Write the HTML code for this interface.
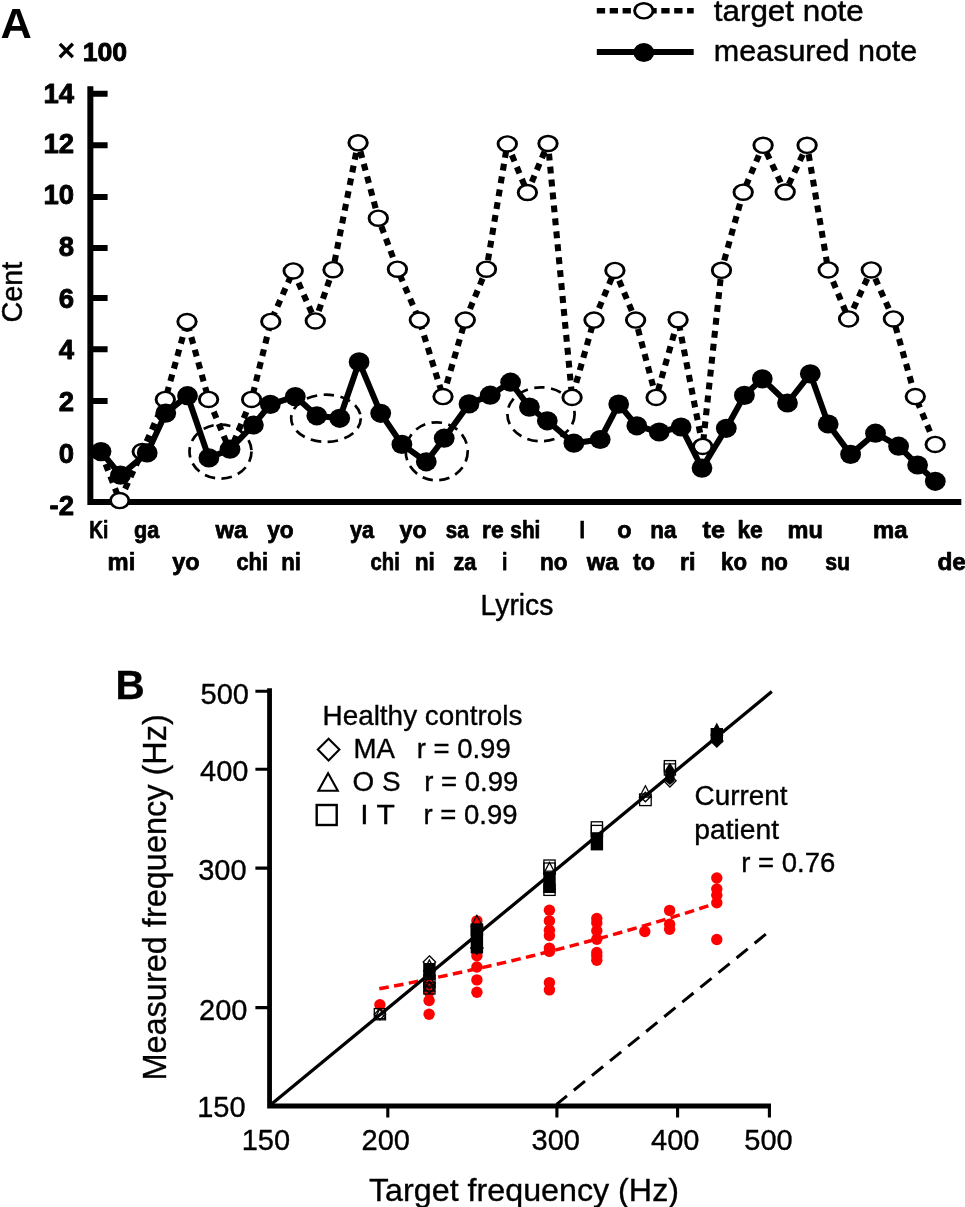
<!DOCTYPE html>
<html lang="en"><head><meta charset="utf-8"><title>Figure</title>
<style>
html,body{margin:0;padding:0;background:#fff;}
body{width:965px;height:1207px;overflow:hidden;}
svg{display:block;font-family:"Liberation Sans", Arial, Helvetica, sans-serif;filter:blur(0.45px);}
#panelB text{stroke:#000;stroke-width:0.35px;}
</style></head><body>
<svg width="965" height="1207" viewBox="0 0 965 1207">
<rect width="965" height="1207" fill="#fff"/>
<g id="panelA" fill="#000" stroke="none">
<path d="M90.35 86.2 V505 M87.4 502 H961.3" stroke="#000" stroke-width="6" fill="none"/>
<path d="M90 93.65 H107.6 M90 145.3 H107.6 M90 197.1 H107.6 M90 248 H107.6 M90 298 H107.6 M90 349.2 H107.6 M90 401 H107.6 " stroke="#000" stroke-width="6" fill="none"/>
<text x="74.0" y="103.2" font-size="27.5" font-weight="bold" text-anchor="end" stroke="#000" stroke-width="0.9" stroke-linejoin="round">14</text>
<text x="74.0" y="153.2" font-size="27.5" font-weight="bold" text-anchor="end" stroke="#000" stroke-width="0.9" stroke-linejoin="round">12</text>
<text x="74.0" y="204.2" font-size="27.5" font-weight="bold" text-anchor="end" stroke="#000" stroke-width="0.9" stroke-linejoin="round">10</text>
<text x="74.0" y="255.9" font-size="27.5" font-weight="bold" text-anchor="end" stroke="#000" stroke-width="0.9" stroke-linejoin="round">8</text>
<text x="74.0" y="308.0" font-size="27.5" font-weight="bold" text-anchor="end" stroke="#000" stroke-width="0.9" stroke-linejoin="round">6</text>
<text x="74.0" y="359.2" font-size="27.5" font-weight="bold" text-anchor="end" stroke="#000" stroke-width="0.9" stroke-linejoin="round">4</text>
<text x="74.0" y="410.8" font-size="27.5" font-weight="bold" text-anchor="end" stroke="#000" stroke-width="0.9" stroke-linejoin="round">2</text>
<text x="74.0" y="463.4" font-size="27.5" font-weight="bold" text-anchor="end" stroke="#000" stroke-width="0.9" stroke-linejoin="round">0</text>
<text x="74.0" y="514.5" font-size="27.5" font-weight="bold" text-anchor="end" stroke="#000" stroke-width="0.9" stroke-linejoin="round">-2</text>
<text x="57.2" y="61.2" font-size="31" font-weight="bold" text-anchor="start" >×</text>
<text x="82.7" y="61.2" font-size="26.5" font-weight="bold" text-anchor="start" textLength="44.5" lengthAdjust="spacingAndGlyphs" stroke="#000" stroke-width="0.9" stroke-linejoin="round">100</text>
<text x="0.4" y="37.5" font-size="43.4" font-weight="bold" text-anchor="start" >A</text>
<text transform="translate(22.0,322.6) rotate(-90)" font-size="30" textLength="60.8" lengthAdjust="spacingAndGlyphs" stroke="#000" stroke-width="0.45" stroke-linejoin="round">Cent</text>
<text x="480.6" y="614.8" font-size="29.2" font-weight="normal" text-anchor="start" textLength="72.8" lengthAdjust="spacingAndGlyphs" stroke="#000" stroke-width="0.45" stroke-linejoin="round">Lyrics</text>
<path d="M596.8 10.8 H693.7" stroke="#000" stroke-width="5.6" stroke-dasharray="8.3 4.6" fill="none"/>
<circle r="7.55" transform="translate(643.8 10.8) scale(1.22 1)" fill="#fff" stroke="#000" stroke-width="2.4"/>
<path d="M596.8 52 H693.7" stroke="#000" stroke-width="5.8" fill="none"/>
<ellipse cx="643.8" cy="52.5" rx="10.4" ry="9.6"/>
<text x="713.8" y="20.5" font-size="29.2" font-weight="normal" text-anchor="start" textLength="150.0" lengthAdjust="spacingAndGlyphs" stroke="#000" stroke-width="0.45" stroke-linejoin="round">target note</text>
<text x="713.8" y="61.3" font-size="29.2" font-weight="normal" text-anchor="start" textLength="203.5" lengthAdjust="spacingAndGlyphs" stroke="#000" stroke-width="0.45" stroke-linejoin="round">measured note</text>
<ellipse cx="220.5" cy="451.6" rx="31" ry="27" transform="rotate(0 220.5 451.6)" fill="none" stroke="#000" stroke-width="2.7" stroke-dasharray="10.5 6.5"/>
<ellipse cx="326" cy="418.3" rx="34.8" ry="23.6" transform="rotate(0 326 418.3)" fill="none" stroke="#000" stroke-width="2.7" stroke-dasharray="10.5 6.5"/>
<ellipse cx="436.7" cy="451.3" rx="31" ry="29" transform="rotate(0 436.7 451.3)" fill="none" stroke="#000" stroke-width="2.7" stroke-dasharray="10.5 6.5"/>
<ellipse cx="541" cy="414.3" rx="33.6" ry="27" transform="rotate(0 541 414.3)" fill="none" stroke="#000" stroke-width="2.7" stroke-dasharray="10.5 6.5"/>
<polyline points="101.0,452.0 119.7,500.6 142.2,451.6 165.3,399.4 187.0,321.6 208.6,399.4 230.0,451.0 251.6,399.4 270.8,321.4 293.2,270.9 315.3,320.9 333.0,269.7 358.1,142.8 378.3,218.2 397.4,269.2 419.3,320.1 443.0,396.6 465.3,320.1 486.5,269.2 507.3,143.9 527.4,192.5 548.0,143.5 572.1,397.4 594.0,320.1 614.9,270.4 635.6,320.1 656.1,397.4 678.1,319.7 702.7,446.4 721.5,270.3 743.2,192.2 763.1,145.3 785.2,192.0 807.1,145.3 828.2,269.9 848.6,318.9 871.3,269.9 893.4,318.9 915.3,396.6 935.2,444.4" fill="none" stroke="#000" stroke-width="6.1" stroke-dasharray="6.9 6.1" stroke-linejoin="round"/>
<circle r="7.55" transform="translate(119.7 500.6) scale(1.22 1)" fill="#fff" stroke="#000" stroke-width="2.4"/>
<circle r="7.55" transform="translate(142.2 451.6) scale(1.22 1)" fill="#fff" stroke="#000" stroke-width="2.4"/>
<circle r="7.55" transform="translate(165.3 399.4) scale(1.22 1)" fill="#fff" stroke="#000" stroke-width="2.4"/>
<circle r="7.55" transform="translate(187.0 321.6) scale(1.22 1)" fill="#fff" stroke="#000" stroke-width="2.4"/>
<circle r="7.55" transform="translate(208.6 399.4) scale(1.22 1)" fill="#fff" stroke="#000" stroke-width="2.4"/>
<circle r="7.55" transform="translate(251.6 399.4) scale(1.22 1)" fill="#fff" stroke="#000" stroke-width="2.4"/>
<circle r="7.55" transform="translate(270.8 321.4) scale(1.22 1)" fill="#fff" stroke="#000" stroke-width="2.4"/>
<circle r="7.55" transform="translate(293.2 270.9) scale(1.22 1)" fill="#fff" stroke="#000" stroke-width="2.4"/>
<circle r="7.55" transform="translate(315.3 320.9) scale(1.22 1)" fill="#fff" stroke="#000" stroke-width="2.4"/>
<circle r="7.55" transform="translate(333.0 269.7) scale(1.22 1)" fill="#fff" stroke="#000" stroke-width="2.4"/>
<circle r="7.55" transform="translate(358.1 142.8) scale(1.22 1)" fill="#fff" stroke="#000" stroke-width="2.4"/>
<circle r="7.55" transform="translate(378.3 218.2) scale(1.22 1)" fill="#fff" stroke="#000" stroke-width="2.4"/>
<circle r="7.55" transform="translate(397.4 269.2) scale(1.22 1)" fill="#fff" stroke="#000" stroke-width="2.4"/>
<circle r="7.55" transform="translate(419.3 320.1) scale(1.22 1)" fill="#fff" stroke="#000" stroke-width="2.4"/>
<circle r="7.55" transform="translate(443.0 396.6) scale(1.22 1)" fill="#fff" stroke="#000" stroke-width="2.4"/>
<circle r="7.55" transform="translate(465.3 320.1) scale(1.22 1)" fill="#fff" stroke="#000" stroke-width="2.4"/>
<circle r="7.55" transform="translate(486.5 269.2) scale(1.22 1)" fill="#fff" stroke="#000" stroke-width="2.4"/>
<circle r="7.55" transform="translate(507.3 143.9) scale(1.22 1)" fill="#fff" stroke="#000" stroke-width="2.4"/>
<circle r="7.55" transform="translate(527.4 192.5) scale(1.22 1)" fill="#fff" stroke="#000" stroke-width="2.4"/>
<circle r="7.55" transform="translate(548.0 143.5) scale(1.22 1)" fill="#fff" stroke="#000" stroke-width="2.4"/>
<circle r="7.55" transform="translate(572.1 397.4) scale(1.22 1)" fill="#fff" stroke="#000" stroke-width="2.4"/>
<circle r="7.55" transform="translate(594.0 320.1) scale(1.22 1)" fill="#fff" stroke="#000" stroke-width="2.4"/>
<circle r="7.55" transform="translate(614.9 270.4) scale(1.22 1)" fill="#fff" stroke="#000" stroke-width="2.4"/>
<circle r="7.55" transform="translate(635.6 320.1) scale(1.22 1)" fill="#fff" stroke="#000" stroke-width="2.4"/>
<circle r="7.55" transform="translate(656.1 397.4) scale(1.22 1)" fill="#fff" stroke="#000" stroke-width="2.4"/>
<circle r="7.55" transform="translate(678.1 319.7) scale(1.22 1)" fill="#fff" stroke="#000" stroke-width="2.4"/>
<circle r="7.55" transform="translate(702.7 446.4) scale(1.22 1)" fill="#fff" stroke="#000" stroke-width="2.4"/>
<circle r="7.55" transform="translate(721.5 270.3) scale(1.22 1)" fill="#fff" stroke="#000" stroke-width="2.4"/>
<circle r="7.55" transform="translate(743.2 192.2) scale(1.22 1)" fill="#fff" stroke="#000" stroke-width="2.4"/>
<circle r="7.55" transform="translate(763.1 145.3) scale(1.22 1)" fill="#fff" stroke="#000" stroke-width="2.4"/>
<circle r="7.55" transform="translate(785.2 192.0) scale(1.22 1)" fill="#fff" stroke="#000" stroke-width="2.4"/>
<circle r="7.55" transform="translate(807.1 145.3) scale(1.22 1)" fill="#fff" stroke="#000" stroke-width="2.4"/>
<circle r="7.55" transform="translate(828.2 269.9) scale(1.22 1)" fill="#fff" stroke="#000" stroke-width="2.4"/>
<circle r="7.55" transform="translate(848.6 318.9) scale(1.22 1)" fill="#fff" stroke="#000" stroke-width="2.4"/>
<circle r="7.55" transform="translate(871.3 269.9) scale(1.22 1)" fill="#fff" stroke="#000" stroke-width="2.4"/>
<circle r="7.55" transform="translate(893.4 318.9) scale(1.22 1)" fill="#fff" stroke="#000" stroke-width="2.4"/>
<circle r="7.55" transform="translate(915.3 396.6) scale(1.22 1)" fill="#fff" stroke="#000" stroke-width="2.4"/>
<circle r="7.55" transform="translate(935.2 444.4) scale(1.22 1)" fill="#fff" stroke="#000" stroke-width="2.4"/>
<polyline points="101.0,451.6 120.5,475.2 147.2,452.9 165.8,413.1 187.5,395.7 208.9,457.9 230.0,449.2 253.4,425.0 270.3,404.4 295.3,396.6 316.8,415.8 339.7,418.3 359.1,361.9 380.7,413.3 401.9,444.4 426.3,461.8 444.2,438.2 469.0,403.9 490.2,395.2 510.6,382.2 529.4,407.1 547.3,420.8 573.9,443.2 600.2,439.5 618.7,404.1 636.8,425.8 659.2,432.0 681.1,427.0 702.0,468.1 726.3,428.3 744.4,395.4 762.3,378.8 787.5,403.0 810.3,373.8 828.2,424.0 850.6,454.4 875.5,433.2 898.6,446.2 917.6,465.0 935.3,481.3" fill="none" stroke="#000" stroke-width="6" stroke-linejoin="round"/>
<ellipse cx="101.0" cy="451.6" rx="10.4" ry="9.6"/>
<ellipse cx="120.5" cy="475.2" rx="10.4" ry="9.6"/>
<ellipse cx="147.2" cy="452.9" rx="10.4" ry="9.6"/>
<ellipse cx="165.8" cy="413.1" rx="10.4" ry="9.6"/>
<ellipse cx="187.5" cy="395.7" rx="10.4" ry="9.6"/>
<ellipse cx="208.9" cy="457.9" rx="10.4" ry="9.6"/>
<ellipse cx="230.0" cy="449.2" rx="10.4" ry="9.6"/>
<ellipse cx="253.4" cy="425.0" rx="10.4" ry="9.6"/>
<ellipse cx="270.3" cy="404.4" rx="10.4" ry="9.6"/>
<ellipse cx="295.3" cy="396.6" rx="10.4" ry="9.6"/>
<ellipse cx="316.8" cy="415.8" rx="10.4" ry="9.6"/>
<ellipse cx="339.7" cy="418.3" rx="10.4" ry="9.6"/>
<ellipse cx="359.1" cy="361.9" rx="10.4" ry="9.6"/>
<ellipse cx="380.7" cy="413.3" rx="10.4" ry="9.6"/>
<ellipse cx="401.9" cy="444.4" rx="10.4" ry="9.6"/>
<ellipse cx="426.3" cy="461.8" rx="10.4" ry="9.6"/>
<ellipse cx="444.2" cy="438.2" rx="10.4" ry="9.6"/>
<ellipse cx="469.0" cy="403.9" rx="10.4" ry="9.6"/>
<ellipse cx="490.2" cy="395.2" rx="10.4" ry="9.6"/>
<ellipse cx="510.6" cy="382.2" rx="10.4" ry="9.6"/>
<ellipse cx="529.4" cy="407.1" rx="10.4" ry="9.6"/>
<ellipse cx="547.3" cy="420.8" rx="10.4" ry="9.6"/>
<ellipse cx="573.9" cy="443.2" rx="10.4" ry="9.6"/>
<ellipse cx="600.2" cy="439.5" rx="10.4" ry="9.6"/>
<ellipse cx="618.7" cy="404.1" rx="10.4" ry="9.6"/>
<ellipse cx="636.8" cy="425.8" rx="10.4" ry="9.6"/>
<ellipse cx="659.2" cy="432.0" rx="10.4" ry="9.6"/>
<ellipse cx="681.1" cy="427.0" rx="10.4" ry="9.6"/>
<ellipse cx="702.0" cy="468.1" rx="10.4" ry="9.6"/>
<ellipse cx="726.3" cy="428.3" rx="10.4" ry="9.6"/>
<ellipse cx="744.4" cy="395.4" rx="10.4" ry="9.6"/>
<ellipse cx="762.3" cy="378.8" rx="10.4" ry="9.6"/>
<ellipse cx="787.5" cy="403.0" rx="10.4" ry="9.6"/>
<ellipse cx="810.3" cy="373.8" rx="10.4" ry="9.6"/>
<ellipse cx="828.2" cy="424.0" rx="10.4" ry="9.6"/>
<ellipse cx="850.6" cy="454.4" rx="10.4" ry="9.6"/>
<ellipse cx="875.5" cy="433.2" rx="10.4" ry="9.6"/>
<ellipse cx="898.6" cy="446.2" rx="10.4" ry="9.6"/>
<ellipse cx="917.6" cy="465.0" rx="10.4" ry="9.6"/>
<ellipse cx="935.3" cy="481.3" rx="10.4" ry="9.6"/>
<text x="89.3" y="538.1" font-size="23.5" font-weight="bold" text-anchor="start" textLength="19.1" lengthAdjust="spacingAndGlyphs" stroke="#000" stroke-width="0.75" stroke-linejoin="round">Ki</text>
<text x="133.9" y="538.1" font-size="23.5" font-weight="bold" text-anchor="start" textLength="25.3" lengthAdjust="spacingAndGlyphs" stroke="#000" stroke-width="0.75" stroke-linejoin="round">ga</text>
<text x="215.4" y="538.1" font-size="23.5" font-weight="bold" text-anchor="start" textLength="31.8" lengthAdjust="spacingAndGlyphs" stroke="#000" stroke-width="0.75" stroke-linejoin="round">wa</text>
<text x="267.2" y="538.1" font-size="23.5" font-weight="bold" text-anchor="start" textLength="26.5" lengthAdjust="spacingAndGlyphs" stroke="#000" stroke-width="0.75" stroke-linejoin="round">yo</text>
<text x="349.9" y="538.1" font-size="23.5" font-weight="bold" text-anchor="start" textLength="24.1" lengthAdjust="spacingAndGlyphs" stroke="#000" stroke-width="0.75" stroke-linejoin="round">ya</text>
<text x="399.6" y="538.1" font-size="23.5" font-weight="bold" text-anchor="start" textLength="27.0" lengthAdjust="spacingAndGlyphs" stroke="#000" stroke-width="0.75" stroke-linejoin="round">yo</text>
<text x="445.8" y="538.1" font-size="23.5" font-weight="bold" text-anchor="start" textLength="22.8" lengthAdjust="spacingAndGlyphs" stroke="#000" stroke-width="0.75" stroke-linejoin="round">sa</text>
<text x="482.0" y="538.1" font-size="23.5" font-weight="bold" text-anchor="start" textLength="21.6" lengthAdjust="spacingAndGlyphs" stroke="#000" stroke-width="0.75" stroke-linejoin="round">re</text>
<text x="510.3" y="538.1" font-size="23.5" font-weight="bold" text-anchor="start" textLength="30.1" lengthAdjust="spacingAndGlyphs" stroke="#000" stroke-width="0.75" stroke-linejoin="round">shi</text>
<text x="579.5" y="538.1" font-size="23.5" font-weight="bold" text-anchor="start" textLength="5.5" lengthAdjust="spacingAndGlyphs" stroke="#000" stroke-width="0.75" stroke-linejoin="round">I</text>
<text x="617.3" y="538.1" font-size="23.5" font-weight="bold" text-anchor="start" textLength="14.3" lengthAdjust="spacingAndGlyphs" stroke="#000" stroke-width="0.75" stroke-linejoin="round">o</text>
<text x="650.2" y="538.1" font-size="23.5" font-weight="bold" text-anchor="start" textLength="26.2" lengthAdjust="spacingAndGlyphs" stroke="#000" stroke-width="0.75" stroke-linejoin="round">na</text>
<text x="702.6" y="538.1" font-size="23.5" font-weight="bold" text-anchor="start" textLength="22.3" lengthAdjust="spacingAndGlyphs" stroke="#000" stroke-width="0.75" stroke-linejoin="round">te</text>
<text x="737.4" y="538.1" font-size="23.5" font-weight="bold" text-anchor="start" textLength="25.4" lengthAdjust="spacingAndGlyphs" stroke="#000" stroke-width="0.75" stroke-linejoin="round">ke</text>
<text x="787.6" y="538.1" font-size="23.5" font-weight="bold" text-anchor="start" textLength="35.3" lengthAdjust="spacingAndGlyphs" stroke="#000" stroke-width="0.75" stroke-linejoin="round">mu</text>
<text x="873.1" y="538.1" font-size="23.5" font-weight="bold" text-anchor="start" textLength="34.5" lengthAdjust="spacingAndGlyphs" stroke="#000" stroke-width="0.75" stroke-linejoin="round">ma</text>
<text x="107.6" y="569.5" font-size="23.5" font-weight="bold" text-anchor="start" textLength="27.7" lengthAdjust="spacingAndGlyphs" stroke="#000" stroke-width="0.75" stroke-linejoin="round">mi</text>
<text x="172.2" y="569.5" font-size="23.5" font-weight="bold" text-anchor="start" textLength="27.4" lengthAdjust="spacingAndGlyphs" stroke="#000" stroke-width="0.75" stroke-linejoin="round">yo</text>
<text x="236.5" y="569.5" font-size="23.5" font-weight="bold" text-anchor="start" textLength="31.5" lengthAdjust="spacingAndGlyphs" stroke="#000" stroke-width="0.75" stroke-linejoin="round">chi</text>
<text x="281.3" y="569.5" font-size="23.5" font-weight="bold" text-anchor="start" textLength="19.7" lengthAdjust="spacingAndGlyphs" stroke="#000" stroke-width="0.75" stroke-linejoin="round">ni</text>
<text x="370.6" y="569.5" font-size="23.5" font-weight="bold" text-anchor="start" textLength="29.3" lengthAdjust="spacingAndGlyphs" stroke="#000" stroke-width="0.75" stroke-linejoin="round">chi</text>
<text x="414.7" y="569.5" font-size="23.5" font-weight="bold" text-anchor="start" textLength="20.2" lengthAdjust="spacingAndGlyphs" stroke="#000" stroke-width="0.75" stroke-linejoin="round">ni</text>
<text x="453.5" y="569.5" font-size="23.5" font-weight="bold" text-anchor="start" textLength="22.9" lengthAdjust="spacingAndGlyphs" stroke="#000" stroke-width="0.75" stroke-linejoin="round">za</text>
<text x="502.0" y="569.5" font-size="23.5" font-weight="bold" text-anchor="start" textLength="5.4" lengthAdjust="spacingAndGlyphs" stroke="#000" stroke-width="0.75" stroke-linejoin="round">i</text>
<text x="540.1" y="569.5" font-size="23.5" font-weight="bold" text-anchor="start" textLength="27.5" lengthAdjust="spacingAndGlyphs" stroke="#000" stroke-width="0.75" stroke-linejoin="round">no</text>
<text x="586.8" y="569.5" font-size="23.5" font-weight="bold" text-anchor="start" textLength="31.8" lengthAdjust="spacingAndGlyphs" stroke="#000" stroke-width="0.75" stroke-linejoin="round">wa</text>
<text x="632.9" y="569.5" font-size="23.5" font-weight="bold" text-anchor="start" textLength="22.0" lengthAdjust="spacingAndGlyphs" stroke="#000" stroke-width="0.75" stroke-linejoin="round">to</text>
<text x="680.0" y="569.5" font-size="23.5" font-weight="bold" text-anchor="start" textLength="15.6" lengthAdjust="spacingAndGlyphs" stroke="#000" stroke-width="0.75" stroke-linejoin="round">ri</text>
<text x="721.1" y="569.5" font-size="23.5" font-weight="bold" text-anchor="start" textLength="25.9" lengthAdjust="spacingAndGlyphs" stroke="#000" stroke-width="0.75" stroke-linejoin="round">ko</text>
<text x="760.7" y="569.5" font-size="23.5" font-weight="bold" text-anchor="start" textLength="27.2" lengthAdjust="spacingAndGlyphs" stroke="#000" stroke-width="0.75" stroke-linejoin="round">no</text>
<text x="825.2" y="569.5" font-size="23.5" font-weight="bold" text-anchor="start" textLength="24.9" lengthAdjust="spacingAndGlyphs" stroke="#000" stroke-width="0.75" stroke-linejoin="round">su</text>
<text x="937.4" y="569.5" font-size="23.5" font-weight="bold" text-anchor="start" textLength="28.5" lengthAdjust="spacingAndGlyphs" stroke="#000" stroke-width="0.75" stroke-linejoin="round">de</text>
</g>
<g id="panelB" fill="#000" stroke="none">
<circle cx="379.9" cy="1004.8" r="5.7" fill="#fe0000"/>
<circle cx="429.1" cy="984.4" r="5.7" fill="#fe0000"/>
<circle cx="429.1" cy="1000.5" r="5.7" fill="#fe0000"/>
<circle cx="429.1" cy="1014.2" r="5.7" fill="#fe0000"/>
<circle cx="476.9" cy="920.9" r="5.7" fill="#fe0000"/>
<circle cx="476.9" cy="955.8" r="5.7" fill="#fe0000"/>
<circle cx="476.9" cy="967" r="5.7" fill="#fe0000"/>
<circle cx="476.9" cy="979.9" r="5.7" fill="#fe0000"/>
<circle cx="476.9" cy="992.3" r="5.7" fill="#fe0000"/>
<circle cx="549.4" cy="910.3" r="5.7" fill="#fe0000"/>
<circle cx="549.4" cy="920.9" r="5.7" fill="#fe0000"/>
<circle cx="549.4" cy="930.2" r="5.7" fill="#fe0000"/>
<circle cx="549.4" cy="935.5" r="5.7" fill="#fe0000"/>
<circle cx="549.4" cy="948.1" r="5.7" fill="#fe0000"/>
<circle cx="549.4" cy="951.4" r="5.7" fill="#fe0000"/>
<circle cx="549.4" cy="982.6" r="5.7" fill="#fe0000"/>
<circle cx="549.4" cy="989.9" r="5.7" fill="#fe0000"/>
<circle cx="596.8" cy="918.5" r="5.7" fill="#fe0000"/>
<circle cx="596.8" cy="923" r="5.7" fill="#fe0000"/>
<circle cx="596.8" cy="930.8" r="5.7" fill="#fe0000"/>
<circle cx="596.8" cy="939.2" r="5.7" fill="#fe0000"/>
<circle cx="596.8" cy="952.5" r="5.7" fill="#fe0000"/>
<circle cx="596.8" cy="956" r="5.7" fill="#fe0000"/>
<circle cx="596.8" cy="960.3" r="5.7" fill="#fe0000"/>
<circle cx="644.8" cy="931.5" r="5.7" fill="#fe0000"/>
<circle cx="669.6" cy="910.4" r="5.7" fill="#fe0000"/>
<circle cx="669.6" cy="924.2" r="5.7" fill="#fe0000"/>
<circle cx="669.6" cy="929.2" r="5.7" fill="#fe0000"/>
<circle cx="716.8" cy="878" r="5.7" fill="#fe0000"/>
<circle cx="716.8" cy="889" r="5.7" fill="#fe0000"/>
<circle cx="716.8" cy="895.3" r="5.7" fill="#fe0000"/>
<circle cx="716.8" cy="902.7" r="5.7" fill="#fe0000"/>
<circle cx="716.8" cy="939.5" r="5.7" fill="#fe0000"/>
<polyline points="379.3,988.8 404.5,984.0 428.3,979.2 450.9,974.5 472.2,969.8 492.6,965.3 512.0,960.7 530.5,956.3 548.3,951.9 565.3,947.5 581.6,943.2 597.4,938.9 612.6,934.8 627.2,930.6 641.4,926.5 655.0,922.5 668.3,918.5 681.1,914.5 693.6,910.6 705.7,906.7 717.5,902.9" fill="none" stroke="#fe0000" stroke-width="3.5" stroke-dasharray="9.6 5.4"/>
<path d="M269.5 1105.8 L771.8 691.6" stroke="#000" stroke-width="3.3" fill="none"/>
<path d="M765.8 934.2 L556.6 1104.3" stroke="#000" stroke-width="3" stroke-dasharray="14.4 8.9" fill="none"/>
<rect x="374.3" y="1008.6" width="11.2" height="11.2" fill="none" stroke="#000" stroke-width="1.3"/>
<path d="M379.9 1008.6 L385.5 1014.2 L379.9 1019.8 L374.3 1014.2 Z" fill="none" stroke="#000" stroke-width="1.3"/>
<path d="M379.9 1008.7 L385.1 1018.6 H374.7 Z" fill="none" stroke="#000" stroke-width="1.3"/>
<circle cx="429.1" cy="992.6" r="5.2" fill="#fe0000"/>
<path d="M429.4 955.8 L435.6 962.0 L429.4 968.2 L423.2 962.0 Z" fill="none" stroke="#000" stroke-width="1.3"/>
<path d="M429.4 960.0 L435.1 970.8 H423.7 Z" fill="none" stroke="#000" stroke-width="1.3"/>
<rect x="423.2" y="963.0" width="12.4" height="17.0" fill="#000"/>
<rect x="423.8" y="974.9" width="11.2" height="11.2" fill="none" stroke="#000" stroke-width="1.3"/>
<rect x="423.8" y="982.8" width="11.2" height="11.2" fill="none" stroke="#000" stroke-width="1.3"/>
<path d="M429.4 981.9 L435.0 987.5 L429.4 993.1 L423.8 987.5 Z" fill="none" stroke="#000" stroke-width="1.5"/>
<path d="M429.4 981.0 L434.6 990.9 H424.2 Z" fill="none" stroke="#000" stroke-width="1.5"/>
<path d="M429.4 977.4 L435.0 983.0 L429.4 988.6 L423.8 983.0 Z" fill="none" stroke="#000" stroke-width="1.5"/>
<path d="M476.9 915.5 L482.6 926.3 H471.2 Z" fill="none" stroke="#000" stroke-width="1.3"/>
<rect x="470.7" y="924.0" width="12.4" height="29.5" fill="#000"/>
<rect x="471.3" y="924.0" width="11.2" height="11.2" fill="none" stroke="#000" stroke-width="1.3"/>
<path d="M476.9 941.8 L483.1 948.0 L476.9 954.2 L470.7 948.0 Z" fill="none" stroke="#000" stroke-width="1.3"/>
<rect x="543.9" y="860.0" width="11.2" height="11.2" fill="none" stroke="#000" stroke-width="1.3"/>
<path d="M549.5 862.5 L555.2 873.3 H543.8 Z" fill="none" stroke="#000" stroke-width="1.3"/>
<rect x="543.9" y="863.0" width="11.2" height="11.2" fill="none" stroke="#000" stroke-width="1.3"/>
<rect x="543.3" y="872.0" width="12.4" height="21.0" fill="#000"/>
<rect x="543.9" y="884.2" width="11.2" height="11.2" fill="none" stroke="#000" stroke-width="1.3"/>
<rect x="591.3" y="821.8" width="11.2" height="11.2" fill="none" stroke="#000" stroke-width="1.3"/>
<rect x="591.3" y="825.4" width="11.2" height="11.2" fill="none" stroke="#000" stroke-width="1.3"/>
<rect x="590.7" y="832.6" width="12.4" height="17.8" fill="#000"/>
<path d="M645.4 785.8 L651.3 797.0 H639.5 Z" fill="none" stroke="#000" stroke-width="1.3"/>
<path d="M645.4 792.2 L650.2 797.0 L645.4 801.8 L640.6 797.0 Z" fill="none" stroke="#000" stroke-width="1.3"/>
<rect x="639.6" y="794.0" width="11.6" height="11.6" fill="none" stroke="#000" stroke-width="1.3"/>
<rect x="664.3" y="760.6" width="11.2" height="11.2" fill="none" stroke="#000" stroke-width="1.3"/>
<rect x="664.3" y="763.9" width="11.2" height="11.2" fill="none" stroke="#000" stroke-width="1.2"/>
<path d="M669.9 762.5 L674.6 770 V781 L669.9 785 L665.2 781 V770 Z" fill="#000"/>
<path d="M669.9 774.6 L676.1 780.8 L669.9 787.0 L663.7 780.8 Z" fill="none" stroke="#000" stroke-width="1.3"/>
<path d="M716.8 724.0 L722.5 734.8 H711.1 Z" fill="#000" stroke="#000" stroke-width="1.3"/>
<rect x="710.6" y="728.0" width="12.4" height="14.5" fill="#000"/>
<path d="M716.8 734.8 L723.0 741.0 L716.8 747.2 L710.6 741.0 Z" fill="#000" stroke="#000" stroke-width="1.3"/>
<path d="M269.55 688.3 V1108.6 M267.2 1106 H771" stroke="#000" stroke-width="4.8" fill="none"/>
<path d="M255.4 691.2 H270 M255.4 769.2 H270 M255.4 868.1 H270 M255.4 1007.6 H270 M387.8 1106 V1117.6 M556.9 1106 V1117.6 M677.6 1106 V1117.6 M769.4 1106 V1117.6 " stroke="#000" stroke-width="3.1" fill="none"/>
<text x="249.0" y="703.7" font-size="29" font-weight="normal" text-anchor="end" >500</text>
<text x="248.5" y="781.1" font-size="29" font-weight="normal" text-anchor="end" >400</text>
<text x="246.6" y="880.1" font-size="29" font-weight="normal" text-anchor="end" >300</text>
<text x="247.5" y="1020.1" font-size="29" font-weight="normal" text-anchor="end" >200</text>
<text x="245.6" y="1117.4" font-size="29" font-weight="normal" text-anchor="end" >150</text>
<text x="265.9" y="1149.8" font-size="29" font-weight="normal" text-anchor="middle" >150</text>
<text x="385.7" y="1149.8" font-size="29" font-weight="normal" text-anchor="middle" >200</text>
<text x="555.8" y="1149.8" font-size="29" font-weight="normal" text-anchor="middle" >300</text>
<text x="675.2" y="1149.8" font-size="29" font-weight="normal" text-anchor="middle" >400</text>
<text x="768.5" y="1149.8" font-size="29" font-weight="normal" text-anchor="middle" >500</text>
<text x="115.6" y="699.4" font-size="40.5" font-weight="bold" text-anchor="start" >B</text>
<text transform="translate(166.4,1080.6) rotate(-90)" font-size="32.4" textLength="366.5" lengthAdjust="spacingAndGlyphs">Measured frequency (Hz)</text>
<text x="369.0" y="1200.6" font-size="32" font-weight="normal" text-anchor="start" textLength="310.0" lengthAdjust="spacingAndGlyphs" >Target frequency (Hz)</text>
<text x="322.5" y="724.5" font-size="27.4" font-weight="normal" text-anchor="start" textLength="200.0" lengthAdjust="spacingAndGlyphs" >Healthy controls</text>
<path d="M328.6 738.8 L339.4 749.6 L328.6 760.4 L317.8 749.6 Z" fill="none" stroke="#000" stroke-width="2.1"/>
<path d="M328.1 773.2 L337.8 790.7 H318.4 Z" fill="none" stroke="#000" stroke-width="2.1"/>
<rect x="316.7" y="805" width="20" height="20" fill="none" stroke="#000" stroke-width="2.4"/>
<text x="353.5" y="758.1" font-size="27" font-weight="normal" text-anchor="start" textLength="41.5" lengthAdjust="spacingAndGlyphs" >MA</text>
<text x="416.7" y="758.1" font-size="27" font-weight="normal" text-anchor="start" textLength="94.0" lengthAdjust="spacingAndGlyphs" >r = 0.99</text>
<text x="352.5" y="791.0" font-size="27" font-weight="normal" text-anchor="start" textLength="48.0" lengthAdjust="spacingAndGlyphs" >O S</text>
<text x="424.3" y="791.0" font-size="27" font-weight="normal" text-anchor="start" textLength="94.0" lengthAdjust="spacingAndGlyphs" >r = 0.99</text>
<text x="360.3" y="824.1" font-size="27" font-weight="normal" text-anchor="start" textLength="34.5" lengthAdjust="spacingAndGlyphs" >I T</text>
<text x="423.5" y="824.1" font-size="27" font-weight="normal" text-anchor="start" textLength="94.0" lengthAdjust="spacingAndGlyphs" >r = 0.99</text>
<text x="694.5" y="805.3" font-size="27" font-weight="normal" text-anchor="start" textLength="93.0" lengthAdjust="spacingAndGlyphs" >Current</text>
<text x="694.2" y="838.5" font-size="27" font-weight="normal" text-anchor="start" textLength="85.0" lengthAdjust="spacingAndGlyphs" >patient</text>
<text x="741.3" y="871.7" font-size="27" font-weight="normal" text-anchor="start" textLength="94.0" lengthAdjust="spacingAndGlyphs" >r = 0.76</text>
</g>
</svg>
</body></html>
